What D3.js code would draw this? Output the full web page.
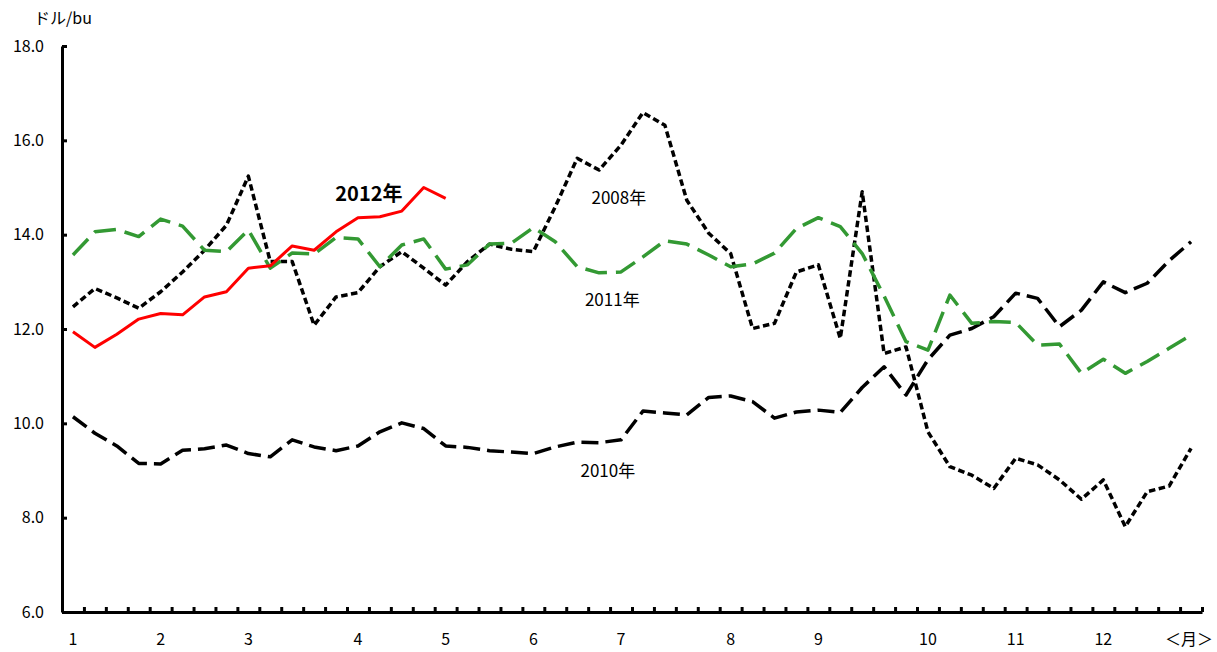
<!DOCTYPE html>
<html>
<head>
<meta charset="utf-8">
<script src="https://cdn.jsdelivr.net/npm/d3@7"></script>
<style>
  html, body { margin: 0; padding: 0; background: #fff; }
  svg { display: block; }
  text { font-family: "Noto Sans CJK JP", "Noto Sans", sans-serif; fill: #000; }
</style>
</head>
<body>
<svg id="chart" width="1217" height="652"></svg>
<script>
// ---- data ----
const weekCount = 52;
const y2008 = [12.47,12.86,12.66,12.44,12.79,13.21,13.67,14.20,15.24,13.43,13.43,12.08,12.68,12.77,13.32,13.64,13.29,12.93,13.43,13.80,13.69,13.64,14.59,15.62,15.37,15.90,16.59,16.32,14.73,14.03,13.60,12.01,12.12,13.21,13.36,11.80,14.91,11.48,11.62,9.82,9.08,8.90,8.62,9.26,9.12,8.80,8.39,8.80,7.81,8.55,8.67,9.47];
const y2010 = [10.14,9.79,9.52,9.15,9.14,9.43,9.46,9.54,9.36,9.29,9.65,9.50,9.42,9.52,9.82,10.01,9.89,9.52,9.49,9.42,9.39,9.36,9.50,9.60,9.59,9.65,10.26,10.22,10.18,10.55,10.58,10.46,10.11,10.24,10.28,10.23,10.76,11.20,10.60,11.35,11.87,12.01,12.26,12.76,12.65,12.05,12.40,13.00,12.77,12.97,13.45,13.85];
const y2011 = [13.57,14.06,14.11,13.96,14.33,14.18,13.67,13.64,14.10,13.29,13.61,13.59,13.94,13.91,13.32,13.78,13.91,13.27,13.36,13.80,13.82,14.15,13.85,13.32,13.19,13.21,13.53,13.87,13.80,13.57,13.32,13.38,13.61,14.13,14.36,14.17,13.60,12.70,11.73,11.55,12.72,12.12,12.16,12.14,11.66,11.68,11.06,11.36,11.06,11.31,11.59,11.87];
const y2012 = [11.94,11.61,11.89,12.21,12.33,12.30,12.68,12.79,13.29,13.34,13.76,13.67,14.06,14.36,14.38,14.50,15.00,14.77];
const monthLabels = ["1","2","3","4","5","6","7","8","9","10","11","12","＜月＞"];
const monthWeek   = [0,4,8,13,17,21,25,30,34,39,43,47,51];
const yTicks = [6,8,10,12,14,16,18];
const unitLabel = "ドル/bu";
const seriesNames = ["2008年","2010年","2011年","2012年"];
const labelPos = [[24.9,14.78],[24.4,8.99],[24.6,12.61],[13.5,14.84]]; // [week index, value]

// ---- layout ----
const svg = d3.select("#chart");
const mLeft = 62, mRight = 1202, mTop = 46, mBottom = 612;

const weeks = d3.range(weekCount);
const x = d3.scaleBand().domain(weeks).range([mLeft, mRight]).paddingInner(0).paddingOuter(0);
const xc = i => x(i) + x.bandwidth() / 2;
const xEdge = d3.scaleLinear().domain([0, weekCount]).range([mLeft, mRight]);
const y = d3.scaleLinear().domain([6, 18]).range([mBottom, mTop]);

// axes
const yAxis = d3.axisLeft(y).tickValues(yTicks).tickFormat(d3.format(".1f"))
  .tickSizeInner(-5).tickSizeOuter(0).tickPadding(18);
const gy = svg.append("g").attr("transform", `translate(${mLeft},0)`).call(yAxis);
gy.select(".domain").attr("stroke", "#000").attr("stroke-width", 3);
gy.selectAll(".tick line").attr("stroke", "#000").attr("stroke-width", 3);
gy.selectAll(".tick text").attr("font-size", 16).attr("font-family", "\"Noto Sans CJK JP\", sans-serif");

const xAxis = d3.axisBottom(xEdge).tickValues(d3.range(1, weekCount + 1))
  .tickFormat("").tickSizeInner(-5).tickSizeOuter(0);
const gx = svg.append("g").attr("transform", `translate(0,${mBottom})`).call(xAxis);
gx.select(".domain").attr("stroke", "#000").attr("stroke-width", 3);
gx.selectAll(".tick line").attr("stroke", "#000").attr("stroke-width", 3);

// month labels
svg.append("g").selectAll("text").data(monthLabels).join("text")
  .attr("x", (d, i) => xc(monthWeek[i]) + (i === 12 ? -2 : 0))
  .attr("y", 645)
  .attr("text-anchor", "middle")
  .attr("font-size", 16)
  .text(d => d);

// unit label
svg.append("text").attr("x", 34).attr("y", 24).attr("font-size", 16).text(unitLabel);

// lines
const line = d3.line().x((d, i) => xc(i)).y(d => y(d));
const styles = [
  { data: y2008, color: "#000", width: 3.5, dash: "6.5,3.5" },
  { data: y2010, color: "#000", width: 3.5, dash: "17,7" },
  { data: y2011, color: "#339933", width: 3.5, dash: "22,9" },
  { data: y2012, color: "#ff0000", width: 3, dash: null }
];
styles.forEach(s => {
  svg.append("path").datum(s.data)
    .attr("fill", "none")
    .attr("stroke", s.color)
    .attr("stroke-width", s.width)
    .attr("stroke-linejoin", "round")
    .attr("stroke-dasharray", s.dash)
    .attr("d", line);
});

// series labels
svg.append("g").selectAll("text").data(seriesNames).join("text")
  .attr("x", (d, i) => xc(0) + labelPos[i][0] * x.bandwidth())
  .attr("y", (d, i) => y(labelPos[i][1]) + 6)
  .attr("text-anchor", "middle")
  .attr("font-size", (d, i) => i === 3 ? 20 : 17)
  .attr("font-weight", (d, i) => i === 3 ? "bold" : "normal")
  .text(d => d);
</script>
</body>
</html>
